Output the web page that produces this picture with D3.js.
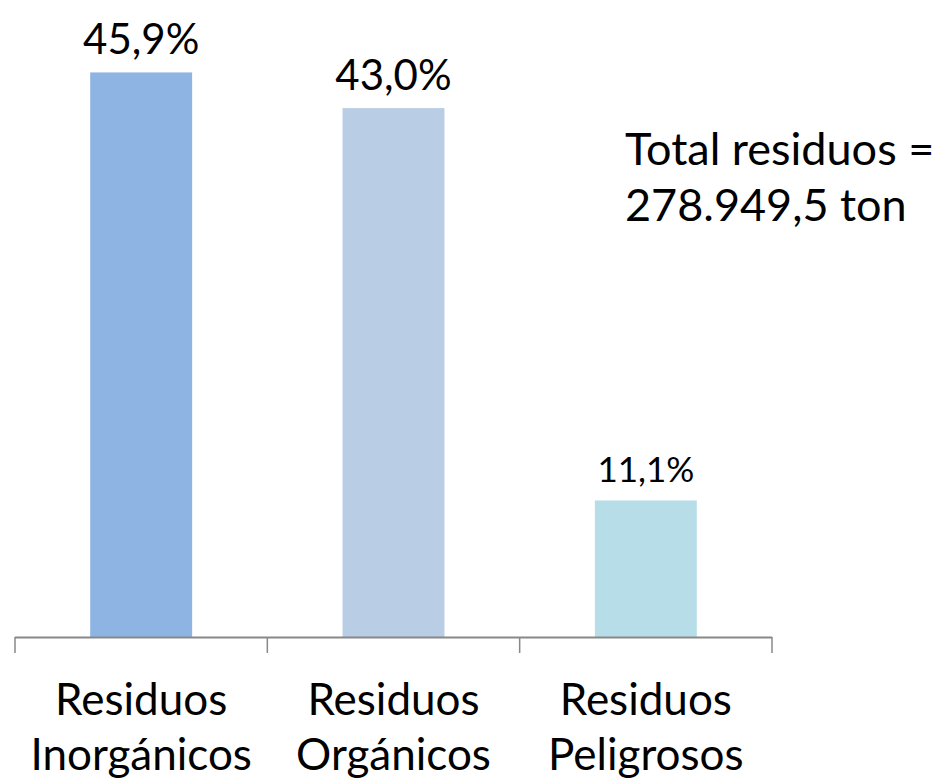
<!DOCTYPE html>
<html>
<head>
<meta charset="utf-8">
<script src="https://cdn.jsdelivr.net/npm/d3@7"></script>
<style>
  body { margin: 0; background: #fff; }
  text { font-family: Lato, "Open Sans", sans-serif; fill: #000; }
</style>
</head>
<body>
<svg id="chart" width="937" height="780"></svg>
<script>
var width = 937;
var height = 780;

var categories = ["Residuos Inorgánicos", "Residuos Orgánicos", "Residuos Peligrosos"];
var values = [45.9, 43.0, 11.1];
var labels = ["45,9%", "43,0%", "11,1%"];
var colors = ["#8EB4E3", "#B9CDE5", "#B7DEE8"];
var note = ["Total residuos =", "278.949,5 ton"];

var svg = d3.select("#chart");

var x = d3.scaleBand()
    .domain(categories)
    .range([15, 772])
    .paddingInner(0.596)
    .paddingOuter(0.298);

var y = d3.scaleLinear()
    .domain([0, 50])
    .range([637, 22]);

// bars
svg.selectAll("rect.bar")
    .data(values)
    .enter()
    .append("rect")
    .attr("class", "bar")
    .attr("x", function (d, i) { return x(categories[i]); })
    .attr("y", function (d) { return y(d); })
    .attr("width", x.bandwidth())
    .attr("height", function (d) { return y(0) - y(d); })
    .style("fill", function (d, i) { return colors[i]; });

// value labels
svg.selectAll("text.val")
    .data(values)
    .enter()
    .append("text")
    .attr("class", "val")
    .attr("x", function (d, i) { return x(categories[i]) + x.bandwidth() / 2; })
    .attr("y", function (d) { return y(d) - 18; })
    .attr("text-anchor", "middle")
    .style("font-size", function (d, i) { return i == 2 ? "35px" : "42px"; })
    .text(function (d, i) { return labels[i]; });

// axis line + ticks between categories
var r = x.range();
var step = x.step();
svg.append("line")
    .attr("x1", r[0]).attr("x2", r[1])
    .attr("y1", y(0) + 0.5).attr("y2", y(0) + 0.5)
    .style("stroke", "#888").style("stroke-width", 2);

svg.selectAll("line.tick")
    .data(d3.range(categories.length + 1))
    .enter()
    .append("line")
    .attr("class", "tick")
    .attr("x1", function (d) { return r[0] + d * step; })
    .attr("x2", function (d) { return r[0] + d * step; })
    .attr("y1", y(0))
    .attr("y2", y(0) + 16)
    .style("stroke", "#888").style("stroke-width", 1.5);

// category labels, two lines
svg.selectAll("text.cat")
    .data(categories)
    .enter()
    .append("text")
    .attr("class", "cat")
    .attr("text-anchor", "middle")
    .attr("x", function (d) { return x(d) + x.bandwidth() / 2; })
    .attr("y", 715)
    .style("font-size", "44px")
    .each(function (d) {
        var parts = d.split(" ");
        d3.select(this).append("tspan")
            .attr("x", x(d) + x.bandwidth() / 2)
            .text(parts[0]);
        d3.select(this).append("tspan")
            .attr("x", x(d) + x.bandwidth() / 2)
            .attr("dy", 55)
            .text(parts[1]);
    });

// total note
svg.append("text")
    .attr("x", 625)
    .attr("y", 165)
    .style("font-size", "45px")
    .selectAll("tspan")
    .data(note)
    .enter()
    .append("tspan")
    .attr("x", 625)
    .attr("dy", function (d, i) { return i == 0 ? 0 : 56; })
    .text(function (d) { return d; });
</script>
</body>
</html>
